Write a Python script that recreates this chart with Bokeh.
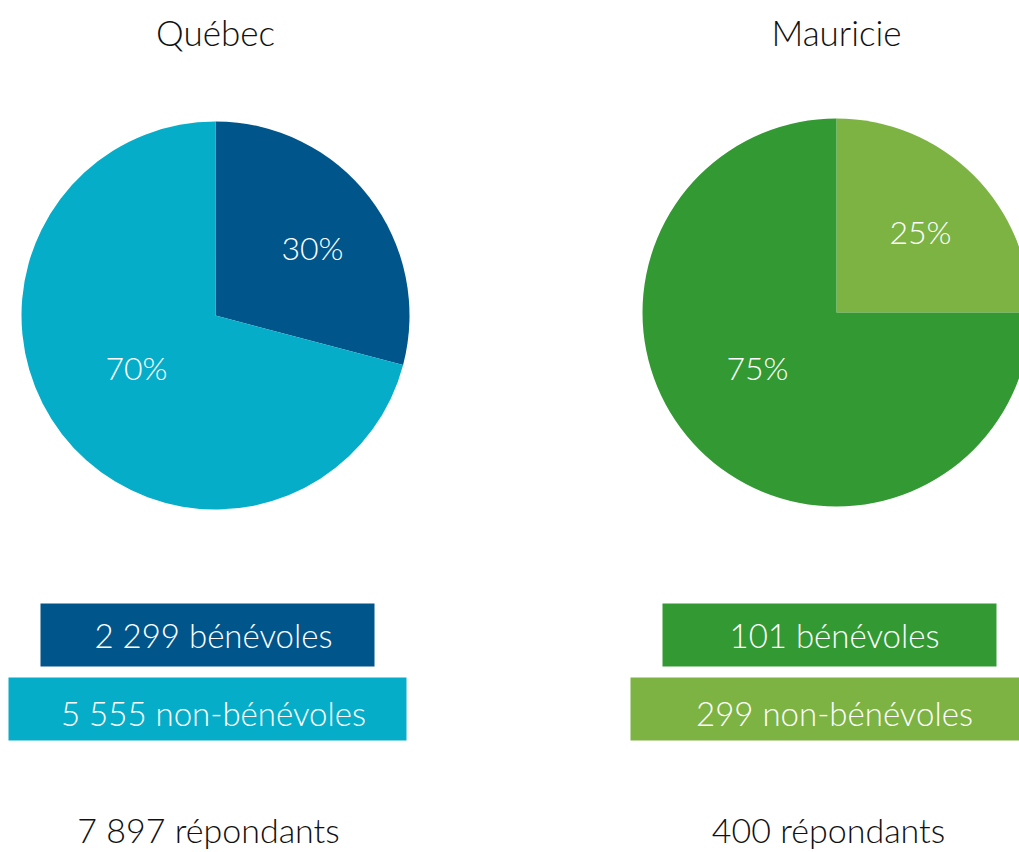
import math
from bokeh.plotting import figure
from bokeh.models import Range1d
from bokeh.core.properties import value
from bokeh.embed import file_html
from bokeh.resources import INLINE

# ---------------- data ----------------
regions = ["Québec", "Mauricie"]
# pie shares (%): bénévoles, non-bénévoles
share_benevoles = [29.1, 25.0]
share_non_benevoles = [70.9, 75.0]
pct_benevoles = ["30%", "25%"]
pct_non_benevoles = ["70%", "75%"]
box_labels_benevoles = ["2 299 bénévoles", "101 bénévoles"]
box_labels_non_benevoles = ["5 555 non-bénévoles", "299 non-bénévoles"]
resp_labels = ["7 897 répondants", "400 répondants"]

# ---------------- styles / layout ----------------
slice_colors_b = ["#00558B", "#7CB342"]
slice_colors_n = ["#06ADC8", "#339933"]
box_colors_b = ["#00558B", "#339933"]
box_colors_n = ["#06ADC8", "#7CB342"]

W, H = 1019, 852


def sy(y):  # screen y -> data y
    return H - y


pie_cx = [215, 836]
pie_cy = [315, 312]
R = 194
lab_b_off = [(97, -68), (84, -81)]
lab_n_off = [(-79, 52), (-79, 55)]
title_x = [215, 836]
box1 = [(40, 374), (662, 996)]
box2 = [(8, 406), (630, 1028)]
box1_y = (603, 666)
box2_y = (677, 740)
box_text_x = [213, 834]
resp_x = [208, 828]

LIGHT = value("Lato Light")

p = figure(width=W, height=H, x_range=Range1d(0, W), y_range=Range1d(0, H),
           output_backend="svg", toolbar_location=None, min_border=0)
p.axis.visible = False
p.grid.visible = False
p.outline_line_color = None
p.background_fill_color = "white"
p.border_fill_color = "white"

for i in range(2):
    total = share_benevoles[i] + share_non_benevoles[i]
    f = share_benevoles[i] / total
    a_top = math.pi / 2
    a_end = math.pi / 2 - 2 * math.pi * f
    cx, cy = pie_cx[i], sy(pie_cy[i])
    # bénévoles slice (clockwise from 12 o'clock)
    p.wedge(x=[cx], y=[cy], radius=R, start_angle=[a_end], end_angle=[a_top],
            fill_color=slice_colors_b[i], line_color=None)
    # non-bénévoles slice
    p.wedge(x=[cx], y=[cy], radius=R, start_angle=[a_top], end_angle=[a_end + 2 * math.pi],
            fill_color=slice_colors_n[i], line_color=None)
    # percent labels
    p.text(x=[pie_cx[i] + lab_b_off[i][0]], y=[sy(pie_cy[i] + lab_b_off[i][1])], text=[pct_benevoles[i]],
           text_align="center", text_baseline="middle", text_color="white",
           text_font=LIGHT, text_font_size="32px")
    p.text(x=[pie_cx[i] + lab_n_off[i][0]], y=[sy(pie_cy[i] + lab_n_off[i][1])], text=[pct_non_benevoles[i]],
           text_align="center", text_baseline="middle", text_color="white",
           text_font=LIGHT, text_font_size="32px")
    # title
    p.text(x=[title_x[i]], y=[sy(31)], text=[regions[i]], text_align="center", text_baseline="middle",
           text_color="#111111", text_font=LIGHT, text_font_size="35px")
    # boxes
    p.quad(left=[box1[i][0]], right=[box1[i][1]], top=[sy(box1_y[0])], bottom=[sy(box1_y[1])],
           fill_color=box_colors_b[i], line_color=None)
    p.quad(left=[box2[i][0]], right=[box2[i][1]], top=[sy(box2_y[0])], bottom=[sy(box2_y[1])],
           fill_color=box_colors_n[i], line_color=None)
    p.text(x=[box_text_x[i]], y=[sy(634)], text=[box_labels_benevoles[i]], text_align="center",
           text_baseline="middle", text_color="white", text_font=LIGHT, text_font_size="33px")
    p.text(x=[box_text_x[i]], y=[sy(712)], text=[box_labels_non_benevoles[i]], text_align="center",
           text_baseline="middle", text_color="white", text_font=LIGHT, text_font_size="33px")
    # respondents
    p.text(x=[resp_x[i]], y=[sy(829)], text=[resp_labels[i]], text_align="center",
           text_baseline="middle", text_color="#111111", text_font=LIGHT, text_font_size="34px")

open("out.html", "w").write(file_html(p, INLINE))
